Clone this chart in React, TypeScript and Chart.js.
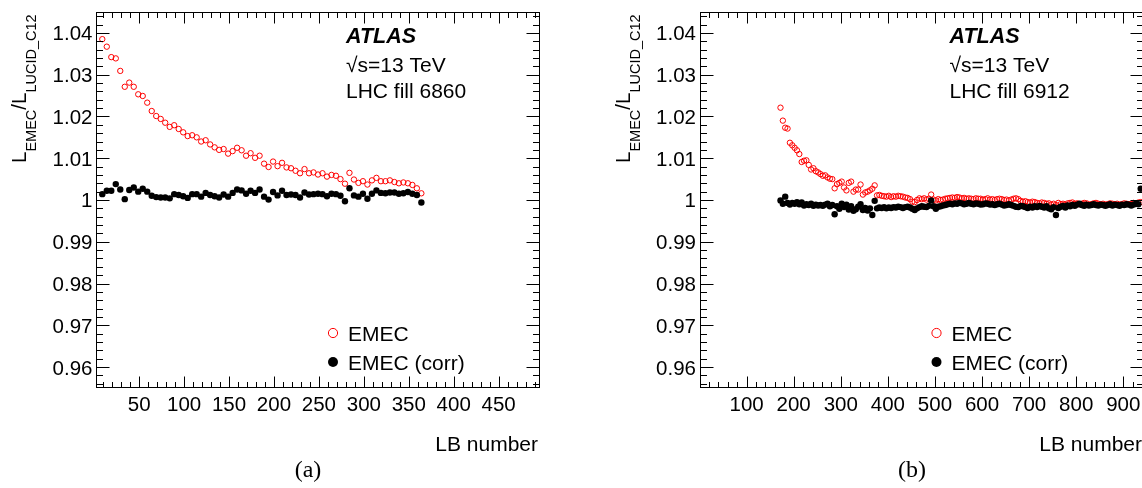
import React, { useEffect, useRef } from "react";
import { Chart, registerables } from "chart.js";
Chart.register(...registerables);

const SANS = '"Liberation Sans", Arial, Helvetica, sans-serif';
const SERIF = '"Liberation Serif", "Times New Roman", serif';

// ---------- Panel (a): LHC fill 6860 ----------
const lbA = [
  9, 14, 19, 24, 29, 34, 39, 44, 49, 54, 59, 64, 69, 74, 79, 84, 89, 94, 99, 104,
  109, 114, 119, 124, 129, 134, 139, 144, 149, 154, 159, 164, 169, 174, 179, 184, 189, 194, 199, 204,
  209, 214, 219, 224, 229, 234, 239, 244, 249, 254, 259, 264, 269, 274, 279, 284, 289, 294, 299, 304,
  309, 314, 319, 324, 329, 334, 339, 344, 349, 354, 359, 364,
];
const emecA = [
  1.0385, 1.0367, 1.0342, 1.0339, 1.0309, 1.0271, 1.0281, 1.0271, 1.0253, 1.0249,
  1.0233, 1.0213, 1.0201, 1.0194, 1.0185, 1.0175, 1.0179, 1.017, 1.0162, 1.0153,
  1.0155, 1.015, 1.014, 1.0143, 1.0133, 1.0126, 1.012, 1.0122, 1.0111, 1.0117,
  1.0125, 1.0119, 1.0106, 1.0112, 1.0101, 1.0106, 1.0087, 1.0079, 1.0092, 1.0081,
  1.0089, 1.0078, 1.0076, 1.007, 1.0064, 1.0074, 1.0064, 1.0066, 1.0061, 1.0064,
  1.0056, 1.006, 1.0058, 1.005, 1.0039, 1.0065, 1.0049, 1.0041, 1.0045, 1.0037,
  1.0047, 1.0053, 1.0045, 1.0045, 1.0047, 1.0043, 1.004, 1.0042, 1.004, 1.0036,
  1.0028, 1.0016,
];
const corrA = [
  1.0014, 1.0022, 1.0022, 1.0038, 1.0025, 1.0002, 1.0024, 1.003, 1.002, 1.0027,
  1.002, 1.001, 1.0007, 1.0006, 1.0006, 1.0004, 1.0014, 1.0012, 1.0009, 1.0005,
  1.0014, 1.0014, 1.0008, 1.0017, 1.0012, 1.0009, 1.0006, 1.0013, 1.0008, 1.0017,
  1.0025, 1.0023, 1.0015, 1.0022, 1.0017, 1.0025, 1.0008, 1.0001, 1.0019, 1.0011,
  1.0022, 1.0012, 1.0013, 1.0012, 1.0006, 1.0018, 1.0013, 1.0014, 1.0015, 1.0014,
  1.0009, 1.0015, 1.0014, 1.001, 0.9997, 1.0028, 1.0011, 1.0008, 1.0015, 1.0003,
  1.0015, 1.0023, 1.0017, 1.0016, 1.0018, 1.0018, 1.0015, 1.0016, 1.0019, 1.0015,
  1.0012, 0.9994,
];

// ---------- Panel (b): LHC fill 6912 ----------
const lbB = [
  172, 177, 182, 187, 192, 197, 202, 207, 212, 217,
  222, 227, 232, 237, 242, 247, 252, 257, 262, 267,
  272, 277, 282, 287, 292, 297, 302, 307, 312, 317,
  322, 327, 332, 337, 342, 347, 352, 357, 362, 367,
  372, 377, 382, 387, 392, 397, 402, 407, 412, 417,
  422, 427, 432, 437, 442, 447, 452, 457, 462, 467,
  472, 477, 482, 487, 492, 497, 502, 507, 512, 517,
  522, 527, 532, 537, 542, 547, 552, 557, 562, 567,
  572, 577, 582, 587, 592, 597, 602, 607, 612, 617,
  622, 627, 632, 637, 642, 647, 652, 657, 662, 667,
  672, 677, 682, 687, 692, 697, 702, 707, 712, 717,
  722, 727, 732, 737, 742, 747, 752, 757, 762, 767,
  772, 777, 782, 787, 792, 797, 802, 807, 812, 817,
  822, 827, 832, 837, 842, 847, 852, 857, 862, 867,
  872, 877, 882, 887, 892, 897, 902, 907, 912, 917,
  922, 927, 932, 937,
];
const emecB = [
  1.0221, 1.019, 1.0173, 1.0171, 1.0137, 1.0131, 1.0125, 1.0119, 1.011, 1.0091,
  1.0094, 1.0095, 1.0084, 1.0073, 1.0076, 1.0069, 1.0066, 1.0062, 1.0058, 1.0059,
  1.0054, 1.0051, 1.005, 1.0028, 1.0038, 1.0041, 1.0044, 1.003, 1.0023, 1.0041,
  1.0044, 1.002, 1.0025, 1.0025, 1.0037, 1.0013, 1.0018, 1.002, 1.0023, 1.0027,
  1.0035, 1.0011, 1.0012, 1.001, 1.0009, 1.0008, 1.001, 1.0007, 1.0009, 1.0008,
  1.001, 1.0009, 1.0008, 1.0006, 1.0005, 1.0002, 0.9996, 0.9995, 1.0, 1.0004,
  1.0002, 1.0004, 1.0001, 1.0003, 1.0013, 1.0001, 0.9999, 1.0002, 1.0, 1.0001,
  1.0003, 1.0004, 1.0005, 1.0006, 1.0005, 1.0007, 1.0006, 1.0004, 1.0005, 1.0003,
  1.0004, 1.0003, 1.0002, 1.0004, 1.0003, 1.0003, 1.0001, 1.0002, 1.0004, 1.0001,
  1.0002, 1.0, 1.0002, 1.0003, 1.0002, 1.0, 1.0001, 0.9999, 1.0001, 1.0003,
  1.0004, 1.0002, 0.9998, 0.9996, 0.9997, 0.9995, 0.9994, 0.9996, 0.9995, 0.9993,
  0.9992, 0.9994, 0.9993, 0.9991, 0.9992, 0.9989, 0.9991, 0.9988, 0.9993, 0.999,
  0.9991, 0.9989, 0.9992, 0.9993, 0.9994, 0.9991, 0.9992, 0.999, 0.9991, 0.9993,
  0.9992, 0.9989, 0.999, 0.9992, 0.9993, 0.9991, 0.999, 0.9991, 0.9989, 0.999,
  0.9992, 0.9991, 0.999, 0.9991, 0.9989, 0.999, 0.9992, 0.9991, 0.999, 0.9991,
  0.9993, 0.9992, 0.9994, 0.9995,
];
const corrB = [
  0.9999, 0.9991, 1.0008, 0.9993, 0.9989, 0.9993, 0.9991, 0.9995, 0.999, 0.9994,
  0.9987, 0.999, 0.9988, 0.9991, 0.9986, 0.9989, 0.9987, 0.9988, 0.9986, 0.9989,
  0.9991, 0.9985, 0.9988, 0.9966, 0.9985, 0.9979, 0.9991, 0.9983, 0.9989, 0.9977,
  0.9985, 0.9974, 0.9978, 0.9984, 0.999, 0.9976, 0.9981, 0.9975, 0.998, 0.9964,
  0.9998, 0.998, 0.9982, 0.9981, 0.9983, 0.998, 0.9982, 0.9981, 0.9983, 0.9982,
  0.9984, 0.9983, 0.9981, 0.9983, 0.9984, 0.9982, 0.9979, 0.9976, 0.998, 0.9983,
  0.9985, 0.9984, 0.9983, 0.9986, 0.9999, 0.9985, 0.9979, 0.9984, 0.9985, 0.9987,
  0.9988, 0.999, 0.9991, 0.999, 0.9992, 0.9991, 0.9993, 0.9992, 0.999, 0.9991,
  0.9993, 0.9991, 0.999, 0.9992, 0.9991, 0.9989, 0.999, 0.9992, 0.9991, 0.9989,
  0.999, 0.9988, 0.999, 0.9991, 0.9989, 0.9987, 0.9988, 0.999, 0.9988, 0.9986,
  0.9984, 0.9983, 0.9986, 0.9985, 0.9983, 0.9981, 0.9984, 0.9982, 0.9985, 0.9983,
  0.9986, 0.9984, 0.9982, 0.9985, 0.998, 0.9978, 0.9983, 0.9964, 0.9981, 0.9984,
  0.9986, 0.9982, 0.9987, 0.9985, 0.9988, 0.9986, 0.9989, 0.9991, 0.9988, 0.9986,
  0.9989, 0.9987, 0.9988, 0.999, 0.9988, 0.9987, 0.9989, 0.9988, 0.9986, 0.9988,
  0.999, 0.9987, 0.9989, 0.9988, 0.9986, 0.9989, 0.9988, 0.999, 0.9989, 0.9987,
  0.9989, 0.9991, 0.999, 1.0027,
];

// ---------- Axes / text ----------
const yTickValues = [0.96, 0.97, 0.98, 0.99, 1.0, 1.01, 1.02, 1.03, 1.04];
const yTickLabels = ["0.96", "0.97", "0.98", "0.99", "1", "1.01", "1.02", "1.03", "1.04"];
const xTickValuesA = [50, 100, 150, 200, 250, 300, 350, 400, 450];
const xTickLabelsA = ["50", "100", "150", "200", "250", "300", "350", "400", "450"];
const xTickValuesB = [100, 200, 300, 400, 500, 600, 700, 800, 900];
const xTickLabelsB = ["100", "200", "300", "400", "500", "600", "700", "800", "900"];
const seriesLabels = ["EMEC", "EMEC (corr)"];
const infoA = ["ATLAS", "\u221As=13 TeV", "LHC fill 6860"];
const infoB = ["ATLAS", "\u221As=13 TeV", "LHC fill 6912"];
const xTitle = "LB number";
const yTitleParts = [
  { t: "L", sub: false },
  { t: "EMEC", sub: true },
  { t: "/L", sub: false },
  { t: "LUCID_C12", sub: true },
];

type Panel = {
  canvasLeft: number;
  canvasWidth: number;
  area: { left: number; right: number; top: number; bottom: number };
  xMin: number;
  xMax: number;
  xMinorStep: number;
  lb: number[];
  emec: number[];
  corr: number[];
  xTicks: number[];
  xTickLabels: string[];
  info: string[];
  caption: string;
  captionX: number;
};

const panels: Panel[] = [
  {
    canvasLeft: 0,
    canvasWidth: 571,
    area: { left: 96, right: 540, top: 12, bottom: 388 },
    xMin: 2,
    xMax: 496,
    xMinorStep: 10,
    lb: lbA,
    emec: emecA,
    corr: corrA,
    xTicks: xTickValuesA,
    xTickLabels: xTickLabelsA,
    info: infoA,
    caption: "(a)",
    captionX: 308,
  },
  {
    canvasLeft: 571,
    canvasWidth: 575,
    area: { left: 699.5, right: 1144, top: 12, bottom: 388 },
    xMin: 0,
    xMax: 944,
    xMinorStep: 20,
    lb: lbB,
    emec: emecB,
    corr: corrB,
    xTicks: xTickValuesB,
    xTickLabels: xTickLabelsB,
    info: infoB,
    caption: "(b)",
    captionX: 912,
  },
];

function makePlugin(p: Panel) {
  return {
    id: "rootStyle",
    afterDraw(chart: any) {
      const ctx: CanvasRenderingContext2D = chart.ctx;
      const a = chart.chartArea;
      const xs = chart.scales.x;
      const ys = chart.scales.y;
      const off = p.canvasLeft;
      ctx.save();
      ctx.strokeStyle = "#000";
      ctx.lineWidth = 1;
      const L = Math.round(a.left) + 0.5;
      const R = Math.round(a.right) - 0.5;
      const T = Math.round(a.top) + 0.5;
      const B = Math.round(a.bottom) - 0.5;
      ctx.strokeRect(L, T, R - L, B - T);
      ctx.beginPath();
      for (let i = 478; i <= 522; i++) {
        const v = i / 500;
        const py = Math.round(ys.getPixelForValue(v)) + 0.5;
        const len = i % 5 === 0 ? 13 : 6.5;
        ctx.moveTo(L, py);
        ctx.lineTo(L + len, py);
        ctx.moveTo(R, py);
        ctx.lineTo(R - len, py);
      }
      for (let k = 1; k * p.xMinorStep < p.xMax; k++) {
        const v = k * p.xMinorStep;
        if (v <= p.xMin) continue;
        const px = Math.round(xs.getPixelForValue(v)) + 0.5;
        const len = k % 5 === 0 ? 11 : 5.5;
        ctx.moveTo(px, B);
        ctx.lineTo(px, B - len);
        ctx.moveTo(px, T);
        ctx.lineTo(px, T + len);
      }
      ctx.stroke();

      // tick labels
      ctx.fillStyle = "#000";
      ctx.font = `20.5px ${SANS}`;
      ctx.textAlign = "right";
      ctx.textBaseline = "alphabetic";
      yTickValues.forEach((v, i) => {
        const py = ys.getPixelForValue(v);
        ctx.fillText(yTickLabels[i], a.left - 3.5, py + 7.4);
      });
      ctx.textAlign = "center";
      p.xTicks.forEach((v, i) => {
        const px = xs.getPixelForValue(v);
        ctx.fillText(p.xTickLabels[i], px, 411);
      });

      // x title
      ctx.font = `21px ${SANS}`;
      ctx.textAlign = "right";
      ctx.fillText(xTitle, a.right - 2, 451);

      // caption
      ctx.font = `24px ${SERIF}`;
      ctx.textAlign = "center";
      ctx.fillText(p.caption, p.captionX - off, 477);

      // y title (rotated)
      ctx.save();
      ctx.translate(a.left - 70, 163);
      ctx.rotate(-Math.PI / 2);
      ctx.textAlign = "left";
      let cx = 0;
      yTitleParts.forEach((part) => {
        ctx.font = part.sub ? `14.5px ${SANS}` : `20.5px ${SANS}`;
        ctx.fillText(part.t, cx, part.sub ? 10 : 0);
        cx += ctx.measureText(part.t).width;
      });
      ctx.restore();

      // info text
      const ix = a.left + 250;
      ctx.textAlign = "left";
      ctx.font = `italic bold 21.5px ${SANS}`;
      ctx.fillText(p.info[0], ix, 43);
      ctx.font = `21px ${SANS}`;
      ctx.fillText(p.info[1], ix, 72);
      ctx.fillText(p.info[2], ix, 98);

      // legend
      const mx = a.left + 237;
      const tx = a.left + 252;
      ctx.beginPath();
      ctx.arc(mx, 333, 4.6, 0, Math.PI * 2);
      ctx.strokeStyle = "#ff0000";
      ctx.lineWidth = 1;
      ctx.stroke();
      ctx.beginPath();
      ctx.arc(mx, 362, 5, 0, Math.PI * 2);
      ctx.fillStyle = "#000";
      ctx.fill();
      ctx.font = `21px ${SANS}`;
      ctx.fillText(seriesLabels[0], tx, 340.5);
      ctx.fillText(seriesLabels[1], tx, 369.5);
      ctx.restore();
    },
  };
}

function PanelChart({ p }: { p: Panel }) {
  const ref = useRef<HTMLCanvasElement | null>(null);
  useEffect(() => {
    if (!ref.current) return;
    const a = p.area;
    const chart = new Chart(ref.current, {
      type: "scatter",
      data: {
        datasets: [
          {
            label: seriesLabels[1],
            data: p.lb.map((x, i) => ({ x, y: p.corr[i] })),
            pointRadius: 3.2,
            pointBackgroundColor: "#000",
            pointBorderColor: "#000",
            pointBorderWidth: 0,
            showLine: false,
            order: 0,
          },
          {
            label: seriesLabels[0],
            data: p.lb.map((x, i) => ({ x, y: p.emec[i] })),
            pointRadius: 2.7,
            pointBackgroundColor: "rgba(0,0,0,0)",
            pointBorderColor: "#ff0000",
            pointBorderWidth: 1,
            showLine: false,
            order: 1,
          },
        ],
      },
      options: {
        responsive: false,
        animation: false,
        devicePixelRatio: 1,
        events: [],
        layout: {
          autoPadding: false,
          padding: {
            left: a.left - p.canvasLeft,
            right: p.canvasLeft + p.canvasWidth - a.right,
            top: a.top,
            bottom: 488 - a.bottom,
          },
        },
        scales: {
          x: { type: "linear", min: p.xMin, max: p.xMax, display: false },
          y: { type: "linear", min: 0.955, max: 1.045, display: false },
        },
        plugins: {
          legend: { display: false },
          tooltip: { enabled: false },
          title: { display: false },
        },
      },
      plugins: [makePlugin(p)],
    } as any);
    return () => chart.destroy();
  }, [p]);
  return (
    <canvas
      ref={ref}
      width={p.canvasWidth}
      height={488}
      style={{ position: "absolute", left: p.canvasLeft, top: 0, width: p.canvasWidth, height: 488 }}
    />
  );
}

export default function App() {
  useEffect(() => {
    document.body.style.margin = "0";
    document.body.style.overflow = "hidden";
    document.body.style.background = "#fff";
  }, []);
  return (
    <div style={{ position: "relative", width: 1142, height: 488, overflow: "hidden", background: "#fff" }}>
      {panels.map((p, i) => (
        <PanelChart key={i} p={p} />
      ))}
    </div>
  );
}
